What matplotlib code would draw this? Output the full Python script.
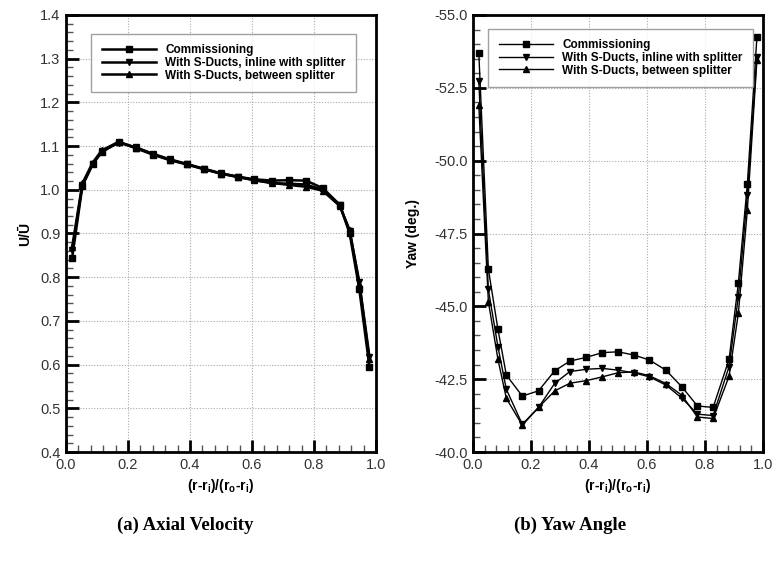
import numpy as np
import matplotlib
matplotlib.use('Agg')
import matplotlib.pyplot as plt
from matplotlib.ticker import MultipleLocator, FormatStrFormatter

plt.rcParams['font.family'] = ['Liberation Sans', 'DejaVu Sans']
plt.rcParams['mathtext.default'] = 'regular'

# ---- data ----
r_pos = [0.020, 0.053, 0.086, 0.115, 0.170, 0.226, 0.282, 0.334, 0.391, 0.446, 0.500,
         0.554, 0.608, 0.665, 0.720, 0.774, 0.828, 0.883, 0.915, 0.946, 0.979]

u_comm = [0.845, 1.009, 1.058, 1.086, 1.109, 1.095, 1.080, 1.068, 1.058, 1.047, 1.037,
          1.030, 1.024, 1.021, 1.022, 1.021, 1.004, 0.966, 0.900, 0.773, 0.594]
u_inline = [0.862, 1.012, 1.060, 1.088, 1.108, 1.097, 1.082, 1.070, 1.059, 1.048, 1.038,
            1.030, 1.022, 1.015, 1.014, 1.012, 1.000, 0.965, 0.905, 0.790, 0.617]
u_between = [0.870, 1.015, 1.062, 1.090, 1.110, 1.096, 1.081, 1.069, 1.058, 1.047, 1.037,
             1.029, 1.022, 1.016, 1.011, 1.007, 0.998, 0.963, 0.908, 0.785, 0.612]

yaw_comm = [-53.70, -46.28, -44.21, -42.64, -41.92, -42.10, -42.79, -43.12, -43.25, -43.41, -43.44,
            -43.33, -43.16, -42.81, -42.24, -41.58, -41.53, -43.18, -45.79, -49.20, -54.23]
yaw_inline = [-52.73, -45.58, -43.61, -42.15, -40.95, -41.53, -42.36, -42.76, -42.84, -42.87, -42.81,
              -42.72, -42.58, -42.30, -41.85, -41.30, -41.25, -42.93, -45.33, -48.82, -53.57]
yaw_between = [-51.90, -45.16, -43.18, -41.84, -40.92, -41.53, -42.10, -42.36, -42.45, -42.58, -42.72,
               -42.75, -42.62, -42.35, -41.95, -41.20, -41.15, -42.60, -44.76, -48.30, -53.45]

labels = ['Commissioning', 'With S-Ducts, inline with splitter', 'With S-Ducts, between splitter']
markers = ['s', 'v', '^']

W, H = 776, 571
fig = plt.figure(figsize=(W / 100, H / 100), dpi=100)
ax1 = fig.add_axes([66 / W, (H - 452) / H, 310 / W, 437 / H])
ax2 = fig.add_axes([473 / W, (H - 452) / H, 290 / W, 437 / H])


def style(ax):
    for s in ax.spines.values():
        s.set_linewidth(2.0)
        s.set_color('black')
    ax.tick_params(which='major', direction='in', length=9, width=2.0, color='black',
                   labelsize=10.5, labelcolor='#333333', pad=4,
                   top=False, right=False)
    ax.tick_params(which='minor', direction='in', length=5, width=1.0, color='#555555',
                   top=False, right=False)
    ax.grid(True, which='major', linestyle=(0, (1, 1.5)), color='#aaaaaa', linewidth=0.8)
    ax.set_axisbelow(True)
    ax.set_xlim(0, 1)
    ax.xaxis.set_major_locator(MultipleLocator(0.2))
    ax.xaxis.set_minor_locator(MultipleLocator(0.04))
    ax.xaxis.set_major_formatter(FormatStrFormatter('%.1f'))
    ax.set_xlabel(r'(r-r$_i$)/(r$_o$-r$_i$)', fontsize=10, fontweight='bold', labelpad=4)


# (a) axial velocity
for ys, m, lab in zip([u_comm, u_inline, u_between], markers, labels):
    ax1.plot(r_pos, ys, color='black', linewidth=1.8, marker=m, markersize=4.5, label=lab)
style(ax1)
ax1.set_ylim(0.4, 1.4)
ax1.yaxis.set_major_locator(MultipleLocator(0.1))
ax1.yaxis.set_minor_locator(MultipleLocator(0.02))
ax1.yaxis.set_major_formatter(FormatStrFormatter('%.1f'))
ax1.set_ylabel('U/Ū', fontsize=10, fontweight='bold', labelpad=6)

# (b) yaw angle
for ys, m, lab in zip([yaw_comm, yaw_inline, yaw_between], markers, labels):
    ax2.plot(r_pos, ys, color='black', linewidth=1.0, marker=m, markersize=4, label=lab)
style(ax2)
ax2.set_ylim(-40, -55)
ax2.yaxis.set_major_locator(MultipleLocator(2.5))
ax2.yaxis.set_minor_locator(MultipleLocator(0.5))
ax2.yaxis.set_major_formatter(FormatStrFormatter('%.1f'))
ax2.set_ylabel('Yaw (deg.)', fontsize=10, fontweight='bold', labelpad=10)

for ax, bb in [(ax1, (91, 35, 244, 56)), (ax2, (488, 30, 244, 56))]:
    x0, y0, w, h = bb
    leg = ax.legend(loc='center left', bbox_to_anchor=(x0 / W, 1 - (y0 + h) / H, w / W, h / H),
                    bbox_transform=fig.transFigure,
                    prop={'weight': 'bold', 'size': 8.5}, frameon=True, fancybox=False,
                    handlelength=4.6, handletextpad=0.8, labelspacing=0.05,
                    borderpad=0.9, borderaxespad=0)
    leg.get_frame().set_edgecolor('#888888')
    leg.get_frame().set_linewidth(1.0)

fig.text(185 / W, 1 - 525 / H, '(a) Axial Velocity', ha='center', va='center',
         fontsize=13.5, fontweight='bold', family='Liberation Serif')
fig.text(570 / W, 1 - 525 / H, '(b) Yaw Angle', ha='center', va='center',
         fontsize=13.5, fontweight='bold', family='Liberation Serif')

fig.savefig('out.png', dpi=100, facecolor='white')
